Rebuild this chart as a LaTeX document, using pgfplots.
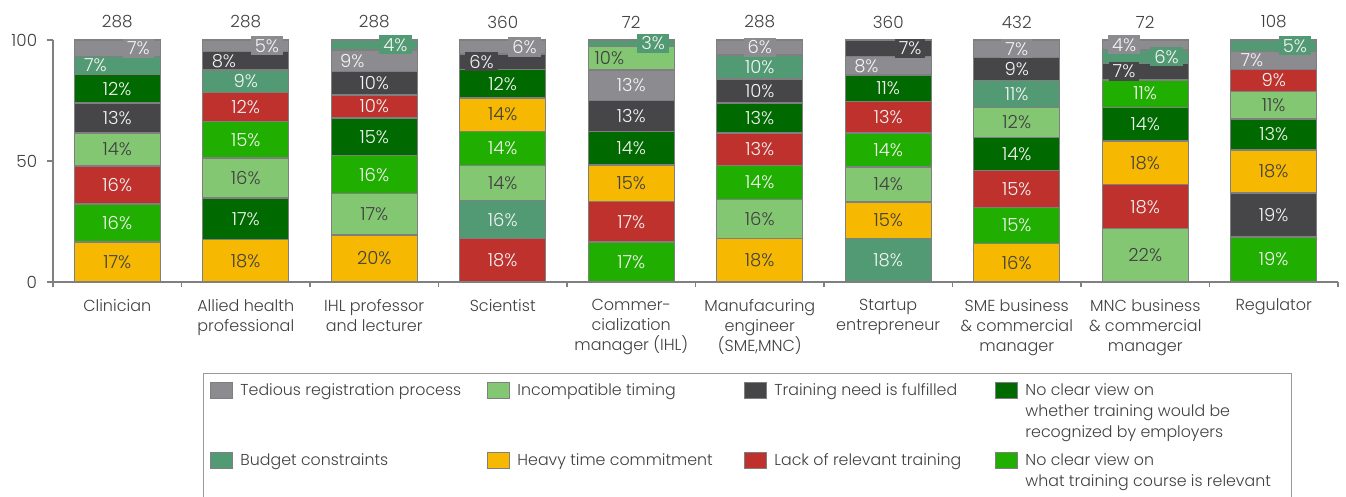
\documentclass[border=0pt]{standalone}
\usepackage{pgfplots}
\pgfplotsset{compat=1.18}
\usepackage{fontspec}
\setmainfont{Poppins}[UprightFont=* Light]
\definecolor{cT}{HTML}{8C8C90}
\definecolor{cI}{HTML}{84C773}
\definecolor{cF}{HTML}{464649}
\definecolor{cR}{HTML}{006A00}
\definecolor{cB}{HTML}{529A74}
\definecolor{cH}{HTML}{F6B800}
\definecolor{cL}{HTML}{BE312D}
\definecolor{cW}{HTML}{20AF00}
\definecolor{segline}{HTML}{7F7F7F}
\definecolor{axgray}{HTML}{808080}
\definecolor{dtext}{HTML}{404040}
\definecolor{ltext}{HTML}{F4F4F4}
\newcommand\labfont{\fontsize{9}{10}\selectfont}
\newcommand\cum{0}
\newcommand\xc{0}
\newcommand\labellist{}
\newcommand\startbar[1]{\gdef\cum{0}\gdef\xc{#1}}
% \seg{fill}{value}{label}{dx}{textcolor}{boxfill}
\newcommand\seg[6]{%
  \pgfmathsetmacro\sLo{\cum}%
  \pgfmathsetmacro\sHi{\cum+#2}%
  \pgfmathsetmacro\sXl{\xc-0.3346}%
  \pgfmathsetmacro\sXr{\xc+0.3346}%
  \pgfmathsetmacro\sXm{\xc+#4}%
  \pgfmathsetmacro\sYm{(\sLo+\sHi)/2}%
  \edef\doit{\noexpand\addplot[forget plot, fill=#1, draw=segline, line width=0.7pt] coordinates {(\sXl,\sLo) (\sXr,\sLo) (\sXr,\sHi) (\sXl,\sHi)} -- cycle;}%
  \doit
  \edef\dolab{\noexpand\addplot[forget plot, only marks, mark=none, nodes near coords={#3\noexpand\%}, nodes near coords style={anchor=center, text=#5, fill=#6, inner xsep=2pt, inner ysep=1.5pt, font=\noexpand\labfont}] coordinates {(\sXm,\sYm)};}%
  \xdef\labellist{\unexpanded\expandafter{\labellist}\unexpanded\expandafter{\dolab}}%
  \global\let\cum\sHi
}
\newcommand\lentry[3]{\raisebox{0pt}[7.25pt][#3]{\parbox[t]{#1}{#2}}}
\begin{document}
\begin{tikzpicture}
\begin{axis}[
  scale only axis, width=642.5pt, height=121pt,
  xmin=-0.5, xmax=9.5, ymin=0, ymax=100,
  axis lines*=left,
  axis line style={draw=axgray, line width=0.9pt},
  clip=false,
  tick align=outside,
  major tick length=2.75pt,
  tick style={draw=axgray, line width=0.9pt},
  ytick={0,50,100},
  yticklabel style={font=\fontsize{8.4}{10}\selectfont, text=dtext, inner sep=0pt, xshift=-5pt},
  /pgf/number format/assume math mode=true,
  xtick={-0.5,0.5,1.5,2.5,3.5,4.5,5.5,6.5,7.5,8.5,9.5},
  x tick label as interval,
  xticklabels={Clinician, Allied health\\professional, IHL professor\\and lecturer, Scientist, Commer-\\cialization\\manager (IHL), {Manufacuring\\engineer\\(SME,MNC)}, Startup\\entrepreneur, SME business\\\& commercial\\manager, MNC business\\\& commercial\\manager, Regulator},
  xticklabel style={font=\fontsize{8}{10}\selectfont, text=dtext, align=center, anchor=north, inner sep=0pt, yshift=-5.6pt},
  legend columns=4,
  legend style={
    at={(axis description cs:0.11673,-0.37603)}, anchor=north west,
    draw=axgray!80, line width=0.5pt,
    inner xsep=3.5pt, inner ysep=4pt,
    font=\fontsize{7.9}{10.5}\selectfont, text=dtext,
    /tikz/column sep=0pt, /tikz/row sep=0pt,
    /tikz/every odd column/.style={column sep=3.5pt},
    cells={anchor=base west},
    nodes={inner sep=0pt, text depth=, text height=},
  },
  legend image code/.code={\draw[#1] (0pt,-1.2pt) rectangle (11pt,6.8pt);},
]
\coordinate (BL) at (rel axis cs:0,0);
% legend entries
\addlegendimage{fill=cT, draw=segline, line width=0.5pt}
\addlegendentry{\lentry{123.5pt}{Tedious registration process}{27.75pt}}
\addlegendimage{fill=cI, draw=segline, line width=0.5pt}
\addlegendentry{\lentry{113.5pt}{Incompatible timing}{27.75pt}}
\addlegendimage{fill=cF, draw=segline, line width=0.5pt}
\addlegendentry{\lentry{110.5pt}{Training need is fulfilled}{27.75pt}}
\addlegendimage{fill=cR, draw=segline, line width=0.5pt}
\addlegendentry{\lentry{129.5pt}{No clear view on\\whether training would be\\recognized by employers}{27.75pt}}
\addlegendimage{fill=cB, draw=segline, line width=0.5pt}
\addlegendentry{\lentry{123.5pt}{Budget constraints}{11.75pt}}
\addlegendimage{fill=cH, draw=segline, line width=0.5pt}
\addlegendentry{\lentry{113.5pt}{Heavy time commitment}{11.75pt}}
\addlegendimage{fill=cL, draw=segline, line width=0.5pt}
\addlegendentry{\lentry{110.5pt}{Lack of relevant training}{11.75pt}}
\addlegendimage{fill=cW, draw=segline, line width=0.5pt}
\addlegendentry{\lentry{129.5pt}{No clear view on\\what training course is relevant}{11.75pt}}
% Clinician
\startbar{0}
\seg{cH}{16.5}{17}{0}{dtext}{none}
\seg{cW}{15.8}{16}{0}{ltext}{none}
\seg{cL}{15.6}{16}{0}{ltext}{none}
\seg{cI}{13.6}{14}{0}{dtext}{none}
\seg{cF}{12.5}{13}{0}{ltext}{none}
\seg{cR}{11.7}{12}{0}{ltext}{none}
\seg{cB}{7.4}{7}{-0.17}{ltext}{none}
\seg{cT}{6.9}{7}{0.165}{ltext}{cT}
% Allied health professional
\startbar{1}
\seg{cH}{17.5}{18}{0}{dtext}{none}
\seg{cR}{17.2}{17}{0}{ltext}{none}
\seg{cI}{16.5}{16}{0}{dtext}{none}
\seg{cW}{15.2}{15}{0}{ltext}{none}
\seg{cL}{12.0}{12}{0}{ltext}{none}
\seg{cB}{9.2}{9}{0}{ltext}{none}
\seg{cF}{7.6}{8}{-0.17}{ltext}{none}
\seg{cT}{4.8}{5}{0.165}{ltext}{cT}
% IHL professor and lecturer
\startbar{2}
\seg{cH}{19.5}{20}{0}{dtext}{none}
\seg{cI}{17.0}{17}{0}{dtext}{none}
\seg{cW}{15.8}{16}{0}{ltext}{none}
\seg{cR}{15.4}{15}{0}{ltext}{none}
\seg{cL}{9.6}{10}{0}{ltext}{none}
\seg{cF}{9.8}{10}{0}{ltext}{none}
\seg{cT}{8.8}{9}{-0.17}{ltext}{none}
\seg{cB}{4.1}{4}{0.165}{ltext}{cB}
% Scientist
\startbar{3}
\seg{cL}{17.9}{18}{0}{ltext}{none}
\seg{cB}{15.8}{16}{0}{ltext}{none}
\seg{cI}{14.4}{14}{0}{dtext}{none}
\seg{cW}{14.2}{14}{0}{ltext}{none}
\seg{cH}{13.8}{14}{0}{dtext}{none}
\seg{cR}{11.8}{12}{0}{ltext}{none}
\seg{cF}{6.3}{6}{-0.165}{ltext}{cF}
\seg{cT}{5.8}{6}{0.17}{ltext}{cT}
% Commercialization manager (IHL)
\startbar{4}
\seg{cW}{16.5}{17}{0}{ltext}{none}
\seg{cL}{16.8}{17}{0}{ltext}{none}
\seg{cH}{15.1}{15}{0}{dtext}{none}
\seg{cR}{13.9}{14}{0}{ltext}{none}
\seg{cF}{12.7}{13}{0}{ltext}{none}
\seg{cT}{12.6}{13}{0}{ltext}{none}
\seg{cI}{9.6}{10}{-0.17}{dtext}{none}
\seg{cB}{2.8}{3}{0.17}{ltext}{cB}
% Manufacturing engineer
\startbar{5}
\seg{cH}{17.9}{18}{0}{dtext}{none}
\seg{cI}{16.2}{16}{0}{dtext}{none}
\seg{cW}{14.0}{14}{0}{ltext}{none}
\seg{cL}{13.4}{13}{0}{ltext}{none}
\seg{cR}{12.5}{13}{0}{ltext}{none}
\seg{cF}{9.9}{10}{0}{ltext}{none}
\seg{cB}{9.9}{10}{0}{ltext}{none}
\seg{cT}{6.2}{6}{0}{ltext}{cT}
% Startup entrepreneur
\startbar{6}
\seg{cB}{17.9}{18}{0}{ltext}{none}
\seg{cH}{15.1}{15}{0}{dtext}{none}
\seg{cI}{14.5}{14}{0}{dtext}{none}
\seg{cW}{14.1}{14}{0}{ltext}{none}
\seg{cL}{13.0}{13}{0}{ltext}{none}
\seg{cR}{11.0}{11}{0}{ltext}{none}
\seg{cT}{7.5}{8}{-0.17}{ltext}{none}
\seg{cF}{6.9}{7}{0.17}{ltext}{cF}
% SME business & commercial manager
\startbar{7}
\seg{cH}{15.8}{16}{0}{dtext}{none}
\seg{cW}{15.1}{15}{0}{ltext}{none}
\seg{cL}{15.2}{15}{0}{ltext}{none}
\seg{cR}{13.7}{14}{0}{ltext}{none}
\seg{cI}{12.4}{12}{0}{dtext}{none}
\seg{cB}{11.0}{11}{0}{ltext}{none}
\seg{cF}{9.6}{9}{0}{ltext}{none}
\seg{cT}{7.2}{7}{0}{ltext}{cT}
% MNC business & commercial manager
\startbar{8}
\seg{cI}{22.0}{22}{0}{dtext}{none}
\seg{cL}{18.2}{18}{0}{ltext}{none}
\seg{cH}{18.0}{18}{0}{dtext}{none}
\seg{cR}{14.0}{14}{0}{ltext}{none}
\seg{cW}{11.3}{11}{0}{ltext}{none}
\seg{cF}{6.9}{7}{-0.165}{ltext}{cF}
\seg{cB}{5.5}{6}{0.165}{ltext}{cB}
\seg{cT}{4.1}{4}{-0.165}{ltext}{cT}
% Regulator
\startbar{9}
\seg{cW}{18.6}{19}{0}{ltext}{none}
\seg{cF}{18.1}{19}{0}{ltext}{none}
\seg{cH}{17.9}{18}{0}{dtext}{none}
\seg{cR}{12.8}{13}{0}{ltext}{none}
\seg{cI}{11.4}{11}{0}{dtext}{none}
\seg{cL}{9.0}{9}{0}{ltext}{none}
\seg{cT}{7.5}{7}{-0.17}{ltext}{none}
\seg{cB}{4.7}{5}{0.165}{ltext}{cB}
% segment labels on top of all bars
\labellist
% sample sizes
\addplot[forget plot, only marks, mark=none, point meta=explicit symbolic, nodes near coords, nodes near coords style={anchor=center, yshift=9pt, font=\fontsize{8.4}{10}\selectfont, text=dtext, inner sep=0pt}] coordinates {(0,100)[288] (1,100)[288] (2,100)[288] (3,100)[360] (4,100)[72] (5,100)[288] (6,100)[360] (7,100)[432] (8,100)[72] (9,100)[108]};
\end{axis}
\pgfresetboundingbox
\path[use as bounding box] ([shift={(-26.5pt,-107.5pt)}]BL) rectangle ([shift={(646.5pt,141pt)}]BL);
\end{tikzpicture}
\end{document}
